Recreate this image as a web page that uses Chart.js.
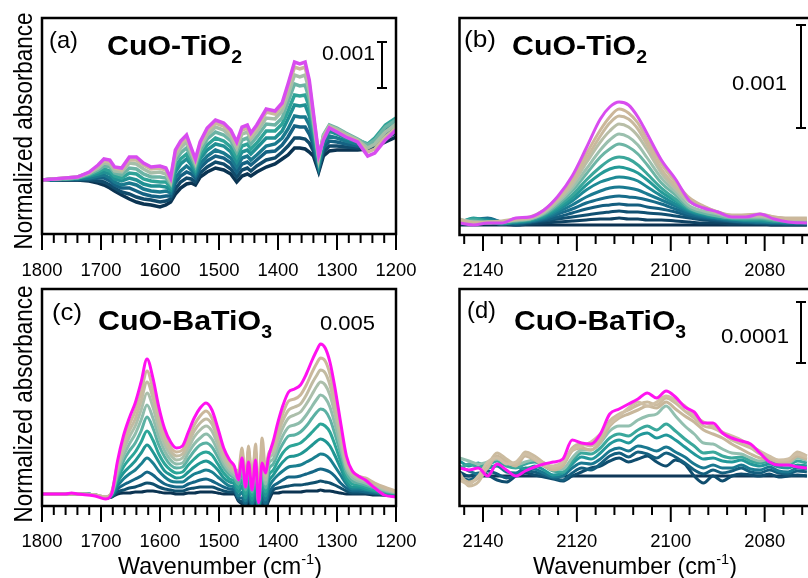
<!DOCTYPE html>
<html>
<head>
<meta charset="utf-8">
<title>Spectra</title>
<script src="https://cdn.jsdelivr.net/npm/chart.js@4.4.1/dist/chart.umd.min.js"></script>
<style>
  html, body { margin: 0; padding: 0; background: #fff; width: 808px; height: 578px; overflow: hidden; }
  canvas { position: absolute; }
</style>
</head>
<body>
<canvas id="chartA" width="420" height="289" style="left:0;top:0"></canvas>
<canvas id="chartB" width="410" height="289" style="left:420px;top:0"></canvas>
<canvas id="chartC" width="420" height="298" style="left:0;top:280px"></canvas>
<canvas id="chartD" width="410" height="298" style="left:420px;top:280px"></canvas>
<script>
// ---- panel (a) CuO-TiO2, 1800-1200 cm-1 ----
const waveA = [1800, 1780, 1760, 1740, 1720, 1705, 1695, 1685, 1677, 1665, 1652, 1640, 1628, 1615, 1600, 1590, 1582, 1574, 1565, 1555, 1547, 1540, 1532, 1520, 1506, 1492, 1480, 1470, 1461, 1452, 1446, 1436, 1420, 1405, 1393, 1383, 1372, 1363, 1354, 1347, 1340, 1331, 1323, 1313, 1300, 1285, 1265, 1248, 1236, 1218, 1200];
const a1 = [54,54,54,54,53,51,49,46,43,39,35,32,30,29,27,29,32,40,46,50,51,49,57,62,66,64,60,52,58,60,58,62,67,70,75,79,86,86,85,82,78,62,78,83,84,84,84,85,87,92,97];
const a2 = [54,54,54,54,54,53,52,49,46,42,40,37,35,34,32,33,35,45,52,56,55,52,61,67,72,70,65,57,64,66,63,68,74,76,82,88,96,96,95,91,83,64,82,88,88,87,86,86,89,96,101];
const a3 = [54,54,55,55,55,56,56,53,49,46,46,43,40,38,37,38,38,51,58,62,60,56,66,73,78,76,71,62,70,72,69,74,82,83,89,97,108,107,107,100,89,66,86,93,92,90,88,87,91,100,105];
const a4 = [54,54,55,55,56,58,59,56,52,49,51,49,45,43,42,43,41,56,63,68,64,59,70,78,84,81,76,67,76,78,74,79,88,90,96,105,118,117,117,109,94,68,90,98,96,93,90,88,93,104,109];
const a5 = [54,55,55,56,58,60,62,60,55,53,56,54,50,48,48,47,44,62,70,75,69,62,75,84,90,88,82,72,82,84,80,86,96,96,103,115,129,128,129,118,100,70,94,103,100,96,92,89,95,107,113];
const a6 = [54,55,55,56,59,62,65,63,58,56,61,60,55,53,52,52,47,67,75,80,73,65,79,89,96,93,87,77,88,90,85,91,103,103,110,123,139,138,139,127,105,73,97,107,104,99,94,90,96,109,116];
const a7 = [54,55,55,56,60,64,68,67,61,59,66,65,60,57,57,56,50,73,81,86,77,68,83,95,102,99,93,82,94,96,90,97,110,109,116,132,150,148,149,135,110,75,99,109,106,101,95,89,94,107,114];
const a8 = [54,55,56,57,61,66,71,70,63,62,71,70,65,61,62,60,52,77,86,92,81,71,87,99,107,104,97,86,100,102,95,102,116,115,123,139,159,157,159,143,115,76,98,108,105,100,94,86,90,102,110];
const a9 = [54,55,56,57,61,68,73,72,66,64,74,74,69,65,66,64,55,81,90,96,84,73,90,103,111,108,101,90,104,106,98,106,122,120,128,146,167,165,167,150,118,78,96,107,103,98,93,82,85,97,106];
const aTop = [54,55,56,57,62,69,75,74,67,66,77,77,71,67,68,66,56,84,93,99,86,75,92,106,114,111,104,92,107,109,101,109,125,123,131,150,172,170,172,154,121,79,94,106,102,97,92,78,81,94,104];

// ---- panel (b) CuO-TiO2, CO region ----
const waveB = [2145, 2142, 2139, 2136, 2133, 2130, 2127, 2124, 2121, 2118, 2115, 2113, 2111, 2109, 2107, 2105, 2102, 2099, 2096, 2093, 2090, 2087, 2084, 2081, 2078, 2075, 2071];
const b1 = [10,10,10,10,10,10,10,10,10,10,10,10,10,10,10,10,10,10,10,10,10,10,10,10,10,10,10];
const b2 = [11,12,13,11,10,11,12,13,14,15,16,16,17,16,16,15,15,14,13,12,12,11,11,11,10,10,10];
const b3 = [11,13,15,12,10,12,14,16,18,20,22,23,24,23,23,22,21,19,17,15,14,13,12,12,11,11,11];
const b4 = [12,14,16,13,11,13,15,18,22,26,29,30,31,30,30,28,26,23,19,17,15,14,13,12,12,11,11];
const b5 = [11,15,17,13,12,13,16,21,26,32,36,38,39,38,37,35,31,26,21,18,16,14,13,13,12,12,12];
const b6 = [12,16,16,13,12,14,17,23,30,38,44,47,48,47,45,41,35,29,23,19,17,15,14,13,13,12,12];
const b7 = [11,15,15,12,13,14,18,25,34,45,53,56,58,57,54,48,39,31,24,20,17,16,15,14,13,13,12];
const b8 = [12,17,14,11,13,15,19,27,37,50,61,66,68,66,62,55,43,34,25,21,18,16,15,15,14,13,13];
const b9 = [13,16,13,12,14,15,20,29,40,55,68,75,78,76,70,61,47,36,26,22,19,17,16,16,14,14,13];
const b10 = [14,14,12,13,14,16,21,31,44,61,78,86,91,88,81,70,52,40,27,22,19,17,17,17,15,14,14];
const b11 = [15,13,12,13,15,16,22,33,47,66,85,95,101,98,90,77,57,43,29,24,21,18,18,18,16,15,15];
const b12 = [16,13,13,13,15,17,23,35,50,72,93,104,111,108,99,85,62,46,33,27,22,19,19,19,17,16,16];
const b13 = [15,12,13,14,16,17,24,36,53,76,99,112,119,116,106,90,66,49,35,28,23,20,20,20,18,17,17];
const b14 = [14,12,13,13,16,18,25,38,56,81,105,118,126,122,112,95,71,53,37,29,23,19,20,21,18,16,16];
const bTop = [12,10,12,12,17,18,25,39,59,87,116,128,133,130,118,101,75,56,34,27,23,18,18,21,16,13,12];

// ---- panel (c) CuO-BaTiO3, 1800-1200 cm-1 ----
const waveC = [1800, 1760, 1750, 1740, 1710, 1692, 1682, 1672, 1662, 1652, 1642, 1632, 1622, 1612, 1602, 1592, 1582, 1572, 1562, 1552, 1542, 1532, 1522, 1512, 1502, 1492, 1482, 1474, 1467, 1461, 1455, 1450, 1444, 1438, 1433, 1427, 1421, 1416, 1408, 1400, 1392, 1382, 1372, 1362, 1352, 1342, 1334, 1328, 1320, 1312, 1304, 1294, 1284, 1274, 1264, 1252, 1236, 1220, 1200];
const c1 = [12,12,12,12,11,8,9,12,13,13,14,14,15,15,14,13,13,12,12,13,13,14,14,14,13,12,12,12,5,2,-2,4,-3,3,-4,2,-2,5,13,13,14,14,14,14,15,15,15,16,15,15,14,13,12,12,12,12,11,11,10];
const c2 = [12,12,12,12,11,8,9,14,16,18,19,21,23,22,19,17,16,15,15,17,18,19,19,19,17,15,14,14,6,4,0,8,-2,6,-4,5,-1,8,16,18,19,20,21,21,22,23,24,25,24,23,21,18,15,13,13,13,12,11,10];
const c3 = [12,12,12,12,11,8,10,17,21,24,27,30,34,31,26,22,20,19,19,22,24,26,27,25,22,19,17,16,8,8,2,12,0,10,-3,9,2,12,20,23,26,29,29,30,32,34,36,37,36,34,30,23,18,15,15,14,13,12,11];
const c4 = [12,12,12,12,11,8,10,20,27,32,36,42,48,43,35,29,25,24,24,28,32,34,36,34,29,24,20,19,10,14,5,18,2,16,-2,15,6,18,26,31,35,39,40,41,44,47,50,52,51,47,40,31,22,17,17,16,14,12,11];
const c5 = [12,12,12,12,11,8,11,24,33,39,45,53,61,54,44,35,31,28,29,34,39,43,45,42,36,28,24,22,14,20,8,24,6,22,0,21,10,24,31,38,44,49,50,52,56,61,65,67,65,60,51,38,25,19,19,17,15,13,12];
const c6 = [12,12,12,12,11,8,11,27,39,47,54,64,75,66,52,42,36,33,34,41,47,52,54,51,42,33,27,25,18,26,12,30,10,28,2,27,14,30,36,45,53,59,61,63,68,74,79,82,80,74,62,45,29,22,21,19,16,14,12];
const c7 = [12,12,12,12,11,8,12,30,45,55,63,75,89,78,61,49,41,38,39,47,55,61,63,59,49,38,31,28,22,33,16,36,14,35,5,34,18,36,42,53,62,70,71,74,80,88,94,97,95,87,73,53,33,25,23,21,18,15,13];
const c8 = [12,12,12,12,11,9,12,33,50,62,72,86,101,88,69,55,46,42,43,53,62,68,72,67,55,42,34,30,26,40,20,42,18,42,8,41,22,42,47,59,70,79,81,84,91,100,107,111,108,99,83,59,37,28,25,23,19,16,13];
const c9 = [12,12,12,12,11,9,13,37,55,69,80,96,113,99,77,61,51,46,48,58,69,76,80,75,61,46,37,33,30,47,24,50,22,50,10,48,26,46,52,66,78,88,91,94,102,112,120,124,121,111,93,66,40,31,27,25,21,17,14];
const c10 = [12,12,12,12,11,9,13,39,60,75,87,105,124,108,84,66,55,50,52,63,75,83,87,82,67,50,40,35,32,53,26,56,24,56,8,56,30,50,56,72,85,96,99,102,111,123,131,136,133,121,101,72,43,33,29,27,22,18,14];
const c11 = [12,12,12,12,11,9,14,42,65,81,95,114,135,117,91,71,59,54,56,68,81,90,95,88,72,54,43,37,35,58,22,60,20,62,5,68,36,52,60,77,92,105,107,111,121,134,143,148,145,132,110,77,46,35,30,28,23,19,15];
const cTop = [12,12,13,12,10,7,12,45,70,88,103,124,147,128,99,77,64,58,60,74,88,98,103,96,78,58,46,40,26,48,19,44,16,46,3,43,33,49,65,84,100,114,117,121,132,146,156,162,158,144,120,84,50,35,30,26,18,11,9];

// ---- panel (d) CuO-BaTiO3, CO region ----
const waveD = [2145, 2143, 2141, 2139, 2137, 2135, 2133, 2131, 2129, 2127, 2125, 2123, 2121, 2119, 2117, 2115, 2113, 2111, 2109, 2107, 2105, 2103, 2101, 2099, 2097, 2095, 2093, 2091, 2089, 2087, 2085, 2083, 2081, 2079, 2077, 2075, 2073, 2071];
const d1 = [30,30,30,30,30,30,30,30,30,30,30,30,30,30,30,30,30,30,30,30,30,30,30,30,30,30,30,30,30,30,30,30,30,30,30,30,30,30];
const d2 = [34,30,33,31,26,24,30,33,31,29,27,25,30,34,38,40,45,48,44,47,50,44,40,46,42,30,23,30,25,30,32,31,30,32,29,30,31,30];
const d3 = [28,26,31,35,32,28,31,35,34,31,28,26,33,38,36,42,50,53,49,54,52,48,53,49,43,36,32,36,33,35,38,34,33,36,33,32,35,34];
const d4 = [40,35,32,38,40,34,33,38,37,33,29,30,38,43,42,47,55,58,55,60,58,55,59,54,49,42,38,41,38,38,41,37,36,39,35,34,38,37];
const d5 = [45,40,43,38,41,44,40,37,40,36,31,33,42,49,47,53,62,66,63,70,73,68,71,66,59,52,47,48,45,44,46,42,40,42,39,38,41,40];
const d6 = [37,42,39,41,45,40,38,42,44,40,35,34,45,53,52,58,68,72,70,76,80,76,82,75,67,60,53,54,50,48,49,45,43,45,42,41,45,43];
const d7 = [48,45,42,44,47,43,41,44,46,43,38,37,48,56,56,63,75,80,80,86,90,92,100,90,80,72,63,62,57,53,52,48,45,47,44,43,48,46];
const d8 = [30,24,28,38,50,44,40,50,46,40,36,40,55,58,56,64,80,88,92,96,100,98,104,97,90,84,76,72,68,62,57,52,48,47,44,44,50,47];
const d9 = [33,20,24,40,53,47,42,54,50,43,38,42,58,62,60,68,85,92,96,101,104,101,108,103,95,88,80,78,73,66,62,58,52,48,45,46,54,50];
const d10 = [26,22,30,44,48,42,44,52,47,41,40,44,56,60,64,72,82,90,98,104,100,104,110,106,100,90,84,80,74,70,66,60,55,50,46,47,52,49];
const dTop = [38,36,38,30,42,36,30,35,39,42,44,47,66,63,62,72,92,97,102,107,113,108,115,109,99,94,83,83,73,68,65,62,53,44,41,41,39,38];

// tick labels
const ticksWide = [1800, 1700, 1600, 1500, 1400, 1300, 1200];
const ticksCO = [2140, 2120, 2100, 2080];

const colorsA = ['#0b3452', '#114b6b', '#156283', '#1a798e', '#209093', '#2fa398', '#6cb4a5', '#a6bea9', '#c9b99d', '#d84cef'];
const colorsB = ['#0b3150', '#0f4363', '#115071', '#145e7f', '#176c8a', '#1a7a91', '#1e8a95', '#249a97', '#3ca79b', '#6db5a5', '#9bc0ae', '#b8bea7', '#c8b99e', '#ccb79a', '#d84cef'];
const colorsC = ['#0b3452', '#10506e', '#156786', '#1a7f90', '#209693', '#2ca598', '#5bb1a3', '#8fbdac', '#acbfab', '#c2bba2', '#cbb89c', '#ff10f0'];
const colorsD = ['#0f3858', '#0f4d6e', '#145f7e', '#1a7890', '#22989a', '#3aa89c', '#93c0b0', '#c8b79b', '#cbbb9f', '#cfbfa5', '#ff14f0'];

const FONT = "'Liberation Sans', Arial, Helvetica, sans-serif";

// draw a run of text pieces (for sub/superscripts), squeezed to a given width
function rich(ctx, x, y, parts, width, align) {
  let total = 0;
  parts.forEach(p => { ctx.font = p.f; p.w = ctx.measureText(p.t).width; total += p.w; });
  const k = width ? width / total : 1;
  ctx.save();
  ctx.translate(x, y);
  ctx.scale(k, 1);
  ctx.textAlign = 'left';
  ctx.textBaseline = 'alphabetic';
  ctx.fillStyle = '#000';
  let cx = align === 'center' ? -total / 2 : 0;
  parts.forEach(p => { ctx.font = p.f; ctx.fillText(p.t, cx, p.dy || 0); cx += p.w; });
  ctx.restore();
}

function scaleBar(ctx, x, y1, y2) {
  ctx.lineWidth = 2;
  ctx.beginPath();
  ctx.moveTo(x, y1); ctx.lineTo(x, y2);
  ctx.moveTo(x - 5, y1); ctx.lineTo(x + 5, y1);
  ctx.moveTo(x - 5, y2); ctx.lineTo(x + 5, y2);
  ctx.stroke();
}

function yTitle(ctx, x, cy, len) {
  ctx.save();
  ctx.translate(x, cy);
  ctx.rotate(-Math.PI / 2);
  rich(ctx, 0, 0, [{ t: 'Normalized absorbance', f: '25px ' + FONT }], len, 'center');
  ctx.restore();
}

function xTitle(ctx, x, y, width) {
  rich(ctx, x, y, [
    { t: 'Wavenumber (cm', f: '24px ' + FONT },
    { t: '-1', f: '15px ' + FONT, dy: -10 },
    { t: ')', f: '24px ' + FONT }
  ], width);
}

function title(ctx, x, y, main, sub, width) {
  rich(ctx, x, y, [
    { t: main, f: 'bold 28px ' + FONT },
    { t: sub, f: 'bold 18px ' + FONT, dy: 8 }
  ], width);
}

function framePlugin(p) {
  return {
    id: 'frame',
    afterDraw(chart) {
      const ctx = chart.ctx;
      const a = chart.chartArea;
      const xs = chart.scales.x;
      ctx.save();
      ctx.translate(-p.ox, -p.oy);
      const L = a.left + p.ox, R = a.right + p.ox, T = a.top + p.oy, B = a.bottom + p.oy;
      ctx.strokeStyle = '#000';
      ctx.lineWidth = 2.5;
      ctx.strokeRect(L, T, R - L, B - T);
      ctx.lineWidth = 2;
      for (let v = p.tickStart; v >= p.tickEnd; v -= p.minor) {
        const px = xs.getPixelForValue(v) + p.ox;
        const major = p.majors.includes(v);
        ctx.beginPath();
        ctx.moveTo(px, B);
        ctx.lineTo(px, B + (major ? 16 : 9));
        ctx.stroke();
        if (major) {
          rich(ctx, px, p.labelY, [{ t: String(v), f: '18.5px ' + FONT }], 41, 'center');
        }
      }
      p.draw(ctx);
      ctx.restore();
    }
  };
}

function makeChart(id, p) {
  const n = p.series.length;
  return new Chart(document.getElementById(id), {
    type: 'line',
    data: {
      datasets: p.series.map((vals, i) => ({
        data: p.wave.map((w, j) => ({ x: w, y: vals[j] })),
        borderColor: p.colors[i],
        borderWidth: i === n - 1 ? p.topWidth : p.width,
        pointRadius: 0,
        fill: false,
        tension: 0,
        cubicInterpolationMode: p.smooth ? 'monotone' : 'default',
        order: n - 1 - i
      }))
    },
    options: {
      responsive: false,
      animation: false,
      events: [],
      layout: { padding: p.pad },
      plugins: { legend: { display: false }, tooltip: { enabled: false } },
      scales: {
        x: { type: 'linear', min: p.xMin, max: p.xMax, reverse: true, display: false },
        y: { min: 0, max: p.yMax, display: false }
      }
    },
    plugins: [framePlugin(p)]
  });
}

makeChart('chartA', {
  ox: 0, oy: 0, pad: { left: 42, top: 18, right: 24, bottom: 55 },
  wave: waveA, series: [a1, a2, a3, a4, a5, a6, a7, a8, a9, aTop], colors: colorsA,
  width: 3.5, topWidth: 3.5, smooth: false,
  xMin: 1200, xMax: 1800, yMax: 216,
  tickStart: 1800, tickEnd: 1200, minor: 20, majors: ticksWide, labelY: 276,
  draw(ctx) {
    yTitle(ctx, 32, 131, 237);
    rich(ctx, 49, 48, [{ t: '(a)', f: '24px ' + FONT }], 29);
    title(ctx, 107, 55, 'CuO-TiO', '2', 135);
    rich(ctx, 322, 60, [{ t: '0.001', f: '21px ' + FONT }], 53);
    scaleBar(ctx, 382, 42, 88);
  }
});

makeChart('chartB', {
  ox: 420, oy: 0, pad: { left: 39.5, top: 18, right: 18.4, bottom: 54 },
  wave: waveB, series: [b1, b2, b3, b4, b5, b6, b7, b8, b9, b10, b11, b12, b13, b14, bTop], colors: colorsB,
  width: 3, topWidth: 3, smooth: true,
  xMin: 2070, xMax: 2145, yMax: 217,
  tickStart: 2144, tickEnd: 2072, minor: 4, majors: ticksCO, labelY: 276,
  draw(ctx) {
    rich(ctx, 464, 47, [{ t: '(b)', f: '24px ' + FONT }], 32);
    title(ctx, 512, 55, 'CuO-TiO', '2', 135);
    rich(ctx, 732, 90, [{ t: '0.001', f: '21px ' + FONT }], 55);
    scaleBar(ctx, 801, 25, 128);
  }
});

makeChart('chartC', {
  ox: 0, oy: 280, pad: { left: 42, top: 9, right: 24, bottom: 72 },
  wave: waveC, series: [c1, c2, c3, c4, c5, c6, c7, c8, c9, c10, c11, cTop], colors: colorsC,
  width: 3, topWidth: 3, smooth: true,
  xMin: 1200, xMax: 1800, yMax: 217,
  tickStart: 1800, tickEnd: 1200, minor: 20, majors: ticksWide, labelY: 547,
  draw(ctx) {
    yTitle(ctx, 32, 404, 237);
    rich(ctx, 52, 320, [{ t: '(c)', f: '24px ' + FONT }], 30);
    title(ctx, 98, 330, 'CuO-BaTiO', '3', 174);
    rich(ctx, 320, 330, [{ t: '0.005', f: '21px ' + FONT }], 55);
    xTitle(ctx, 118, 574, 204);
  }
});

makeChart('chartD', {
  ox: 420, oy: 280, pad: { left: 39.5, top: 9, right: 18.4, bottom: 72 },
  wave: waveD, series: [d1, d2, d3, d4, d5, d6, d7, d8, d9, d10, dTop], colors: colorsD,
  width: 3, topWidth: 3, smooth: true,
  xMin: 2070, xMax: 2145, yMax: 217,
  tickStart: 2144, tickEnd: 2072, minor: 4, majors: ticksCO, labelY: 547,
  draw(ctx) {
    rich(ctx, 467, 318, [{ t: '(d)', f: '24px ' + FONT }], 29);
    title(ctx, 514, 330, 'CuO-BaTiO', '3', 172);
    rich(ctx, 721, 343, [{ t: '0.0001', f: '21px ' + FONT }], 68);
    scaleBar(ctx, 801, 302, 363);
    xTitle(ctx, 533, 574, 204);
  }
});
</script>
</body>
</html>
